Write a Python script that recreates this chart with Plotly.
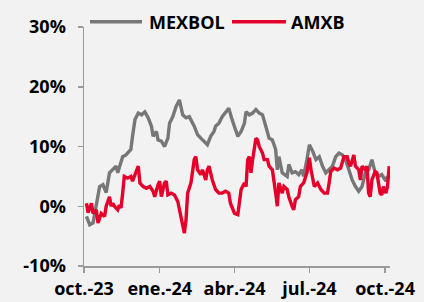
import plotly.graph_objects as go

# MEXBOL (gray) readings, % change
mex_dates = ["2023-10-04","2023-10-08","2023-10-12","2023-10-20","2023-10-24","2023-10-28",
"2023-11-01","2023-11-05","2023-11-09","2023-11-11","2023-11-15","2023-11-17","2023-11-21","2023-11-27","2023-11-29",
"2023-12-02","2023-12-06","2023-12-10","2023-12-14","2023-12-18","2023-12-22","2023-12-24","2023-12-28","2023-12-30",
"2024-01-03","2024-01-07","2024-01-11","2024-01-13","2024-01-17","2024-01-21","2024-01-25","2024-01-27","2024-01-29",
"2024-02-02","2024-02-06","2024-02-12","2024-02-16","2024-02-20","2024-02-24","2024-02-28",
"2024-03-03","2024-03-07","2024-03-09","2024-03-13","2024-03-17","2024-03-21","2024-03-25","2024-03-29",
"2024-04-05","2024-04-09","2024-04-13","2024-04-15","2024-04-19","2024-04-23","2024-04-27",
"2024-05-01","2024-05-05","2024-05-09","2024-05-13","2024-05-17","2024-05-21","2024-05-23","2024-05-25","2024-05-29",
"2024-06-04","2024-06-06","2024-06-10","2024-06-14","2024-06-18","2024-06-22","2024-06-24","2024-06-28",
"2024-07-01","2024-07-05","2024-07-09","2024-07-13","2024-07-17","2024-07-21","2024-07-25","2024-07-29",
"2024-08-02","2024-08-06","2024-08-10","2024-08-14","2024-08-18","2024-08-22","2024-08-26","2024-08-30",
"2024-09-03","2024-09-07","2024-09-11","2024-09-15","2024-09-19","2024-09-23","2024-09-27",
"2024-10-02","2024-10-04"]
mex_values = [-1.7,-3.1,-2.8,3.3,3.6,2.3,
5.6,6.1,6.7,5.6,7.3,8.3,8.6,9.5,11.7,
14.5,15.6,15.3,15.8,14.8,13.4,11.7,12.5,11.1,
10.9,10.0,11.4,13.9,15.0,16.7,17.8,16.2,15.3,
14.8,15.0,13.4,12.0,11.4,10.9,10.3,
11.7,12.5,13.4,13.9,15.0,15.6,16.4,14.5,
11.7,12.5,13.9,15.8,15.3,15.6,16.2,
15.6,15.3,13.4,11.4,11.1,9.5,6.1,8.3,5.6,
5.0,7.0,5.6,5.8,5.3,6.1,5.0,7.8,
10.3,9.2,7.8,8.3,6.7,5.6,6.1,6.7,
8.3,8.9,8.6,7.8,6.1,4.4,3.3,2.5,
3.3,5.6,6.1,7.8,5.6,5.0,5.3,
4.2,5.0]

# AMXB (red) readings, % change
amx_dates = ["2023-10-04","2023-10-06","2023-10-10","2023-10-12","2023-10-16","2023-10-18","2023-10-22","2023-10-26","2023-10-28",
"2023-11-01","2023-11-03","2023-11-05","2023-11-07","2023-11-11","2023-11-13","2023-11-15","2023-11-17","2023-11-19","2023-11-23","2023-11-27","2023-11-29",
"2023-12-04","2023-12-06","2023-12-08","2023-12-12","2023-12-16","2023-12-20","2023-12-24","2023-12-26","2023-12-30",
"2024-01-01","2024-01-03","2024-01-07","2024-01-09","2024-01-11","2024-01-15","2024-01-19","2024-01-23","2024-01-27","2024-01-29","2024-01-31",
"2024-02-02","2024-02-04","2024-02-08","2024-02-12","2024-02-14","2024-02-16","2024-02-20","2024-02-22","2024-02-26","2024-02-28",
"2024-03-01","2024-03-05","2024-03-09","2024-03-13","2024-03-17","2024-03-21","2024-03-25","2024-03-27",
"2024-04-01","2024-04-05","2024-04-09","2024-04-13","2024-04-15","2024-04-17","2024-04-19","2024-04-21","2024-04-23","2024-04-25","2024-04-27","2024-04-29",
"2024-05-01","2024-05-05","2024-05-07","2024-05-11","2024-05-13","2024-05-17","2024-05-19","2024-05-21","2024-05-23","2024-05-25","2024-05-29","2024-05-31",
"2024-06-04","2024-06-06","2024-06-10","2024-06-12","2024-06-14","2024-06-18","2024-06-20","2024-06-24","2024-06-28",
"2024-07-01","2024-07-03","2024-07-05","2024-07-07","2024-07-11","2024-07-15","2024-07-19","2024-07-23","2024-07-25","2024-07-27","2024-07-31",
"2024-08-04","2024-08-08","2024-08-12","2024-08-16","2024-08-18","2024-08-20","2024-08-24","2024-08-26","2024-08-30",
"2024-09-01","2024-09-03","2024-09-07","2024-09-09","2024-09-11","2024-09-13","2024-09-15","2024-09-19","2024-09-21","2024-09-25","2024-09-27","2024-09-29",
"2024-10-02","2024-10-04","2024-10-06"]
amx_values = [0.5,-1.1,0.5,-1.2,-0.6,-2.8,-1.2,-1.7,0.0,
1.6,0.0,0.5,0.0,-0.6,0.2,-0.3,2.2,5.0,4.7,5.0,4.2,
6.1,6.7,3.9,3.3,3.0,3.3,2.5,1.6,3.6,
4.2,1.6,3.9,4.2,1.9,2.2,1.9,0.8,-1.7,-3.4,-4.5,
-2.3,2.2,3.9,7.8,8.3,6.1,5.3,6.1,4.4,6.1,
6.7,4.4,2.8,2.2,2.2,2.5,2.2,0.5,
-1.2,-1.4,2.8,3.9,3.3,7.8,8.3,5.6,7.8,9.5,11.4,11.1,
10.0,8.9,7.8,7.8,6.7,6.1,4.4,2.2,0.0,3.9,2.2,3.3,
2.8,1.6,0.0,-0.6,1.1,1.6,3.3,3.9,5.6,
8.1,6.1,4.4,3.3,3.9,2.8,2.2,2.2,3.9,5.8,6.4,
6.1,6.4,8.3,8.3,7.2,6.7,8.6,6.7,6.1,
4.4,6.7,6.1,6.7,2.2,1.6,4.4,5.8,5.6,2.2,1.9,3.3,
2.2,3.3,6.7]

series_names = ["MEXBOL", "AMXB"]
tick_dates = ["2023-10-01","2024-01-01","2024-04-01","2024-07-01","2024-10-01"]
tick_labels = ["oct.-23","ene.-24","abr.-24","jul.-24","oct.-24"]
y_ticks = [-10, 0, 10, 20, 30]
y_labels = ["-10%", "0%", "10%", "20%", "30%"]

GRAY = "#777777"
RED = "#E4002B"
BG = "#f2f2f2"
font_family = "'Open Sans', sans-serif"
bold_font = dict(size=18, color="#000", family=font_family, weight="bold")

fig = go.Figure()
fig.add_trace(go.Scatter(x=mex_dates, y=mex_values, mode="lines", name=series_names[0],
                         line=dict(color=GRAY, width=3.4), showlegend=False))
fig.add_trace(go.Scatter(x=amx_dates, y=amx_values, mode="lines", name=series_names[1],
                         line=dict(color=RED, width=3.4), showlegend=False))

# legend drawn above the plot area
legend_y = 1.022
for (x0, x1, tx), color, name in zip([(0.0196, 0.1895, 0.2092), (0.4837, 0.660, 0.6732)],
                                      [GRAY, RED], series_names):
    fig.add_shape(type="line", xref="paper", yref="paper", x0=x0, x1=x1, y0=legend_y, y1=legend_y,
                  line=dict(color=color, width=3.4))
    fig.add_annotation(xref="paper", yref="paper", x=tx, y=legend_y, text=name, showarrow=False,
                       xanchor="left", yanchor="middle", borderpad=0, font=bold_font)

fig.update_layout(
    width=424, height=302,
    margin=dict(l=84, r=34, t=27, b=36, autoexpand=False),
    paper_bgcolor=BG, plot_bgcolor=BG,
    font=dict(family=font_family, size=18, color="#000000"),
    showlegend=False,
    hovermode=False,
    xaxis=dict(type="date", range=["2023-10-01", "2024-10-07"],
               tickvals=tick_dates, ticktext=tick_labels, automargin=False,
               showgrid=False, zeroline=False, showline=True, linecolor="#9a9a9a", linewidth=1.5,
               ticks="outside", ticklen=5, tickcolor="#9a9a9a", tickwidth=1.5,
               tickfont=bold_font, ticklabelstandoff=1),
    yaxis=dict(range=[-10, 30], tickvals=y_ticks, ticktext=y_labels, automargin=False,
               showgrid=False, zeroline=False, showline=True, linecolor="#9a9a9a", linewidth=1.5,
               ticks="outside", ticklen=5, tickcolor="#9a9a9a", tickwidth=1.5,
               tickfont=bold_font, ticklabelstandoff=8),
)

fig.write_html("out.html", config={"displayModeBar": False, "staticPlot": True},
               post_script="document.body.style.margin='0';document.body.style.background='#f2f2f2';")
